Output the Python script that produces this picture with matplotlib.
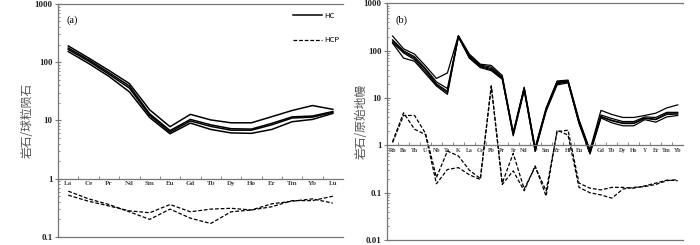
import matplotlib
matplotlib.use("Agg")
import matplotlib.pyplot as plt
from matplotlib.ticker import FixedLocator, LogLocator, NullFormatter
import numpy as np

plt.rcParams['font.family'] = ['Noto Sans CJK SC', 'DejaVu Sans']

# (a) 球粒陨石标准化稀土元素配分
ree = ['La', 'Ce', 'Pr', 'Nd', 'Sm', 'Eu', 'Gd', 'Tb', 'Dy', 'Ho', 'Er', 'Tm', 'Yb', 'Lu']
hc_ree = [
    [190, 118, 72, 43, 15.2, 7.8, 12.7, 10.2, 9.1, 9.1, 11.6, 14.8, 18.0, 15.5],
    [175, 110, 66, 39, 13.0, 6.7, 10.4, 8.4, 7.2, 7.1, 8.9, 11.5, 11.9, 14.2],
    [165, 104, 62, 36, 12.2, 6.3, 9.8, 7.9, 6.8, 6.8, 8.4, 11.0, 11.4, 13.8],
    [152, 95, 57, 31, 11.2, 5.9, 9.0, 7.0, 6.1, 6.0, 7.0, 9.5, 10.4, 13.2],
]
hcp_ree = [
    [0.61, 0.45, 0.36, 0.27, 0.20, 0.30, 0.21, 0.17, 0.27, 0.29, 0.33, 0.42, 0.42, 0.50],
    [0.52, 0.41, 0.34, 0.28, 0.26, 0.36, 0.27, 0.30, 0.31, 0.29, 0.37, 0.41, 0.45, 0.38],
]

# (b) 原始地幔标准化微量元素蛛网图
trace = ['Rb', 'Ba', 'Th', 'U', 'Nb', 'Ta', 'K', 'La', 'Ce', 'Pb', 'Pr', 'Sr', 'Nd', 'P',
         'Sm', 'Zr', 'Hf', 'Eu', 'Ti', 'Gd', 'Tb', 'Dy', 'Ho', 'Y', 'Er', 'Tm', 'Yb']
hc_trace = [
    [205, 110, 85, 48, 26, 34, 210, 85, 52, 49, 30, 1.9, 17, 0.90, 6.2, 23, 24, 3.5, 0.80, 5.5, 4.5, 3.9, 3.9, 4.3, 4.8, 6.2, 7.2],
    [170, 100, 75, 42, 22, 16, 205, 80, 50, 45, 28, 1.8, 16.5, 0.85, 6.0, 22, 23, 3.3, 0.76, 4.4, 3.7, 3.2, 3.2, 4.0, 3.9, 5.0, 5.0],
    [160, 95, 70, 40, 20, 14, 200, 76, 48, 42, 27, 1.75, 16, 0.82, 5.7, 21, 22.5, 3.1, 0.72, 4.1, 3.4, 3.0, 3.0, 3.8, 3.6, 4.8, 4.8],
    [150, 90, 65, 36, 19, 13, 200, 72, 46, 40, 26, 1.7, 15, 0.78, 5.5, 20, 22, 3.0, 0.70, 4.0, 3.3, 2.9, 2.9, 3.7, 3.5, 4.5, 4.6],
    [145, 70, 60, 33, 18, 12, 195, 70, 44, 38, 25, 1.6, 14.5, 0.75, 5.3, 19, 21, 2.9, 0.66, 3.8, 3.0, 2.6, 2.6, 3.5, 3.1, 4.0, 4.3],
]
hcp_trace = [
    [1.2, 4.9, 2.2, 1.7, 0.155, 0.31, 0.34, 0.24, 0.19, 18, 0.15, 0.29, 0.11, 0.37, 0.085,
     2.1, 1.65, 0.13, 0.10, 0.09, 0.077, 0.12, 0.13, 0.135, 0.15, 0.18, 0.19],
    [1.15, 4.3, 4.3, 1.8, 0.21, 0.76, 0.60, 0.30, 0.20, 18, 0.16, 0.68, 0.12, 0.35, 0.11,
     1.95, 2.1, 0.16, 0.125, 0.115, 0.13, 0.13, 0.125, 0.14, 0.16, 0.185, 0.18],
]
yticks_a = [0.1, 1, 10, 100, 1000]
yticks_b = [0.01, 0.1, 1, 10, 100, 1000]

spine_c = '#777777'
serif = ['Liberation Serif', 'DejaVu Serif']


def style_axis(ax, cats, yticks, catsize, ylab, tag, labx):
    n = len(cats)
    x = np.arange(n)
    ymin, ymax = yticks[0], yticks[-1]
    ax.set_yscale('log')
    ax.set_ylim(ymin, ymax)
    ax.set_xlim(-0.5, n - 0.5)
    ax.spines['right'].set_visible(False)
    ax.spines['bottom'].set_position(('data', 1))
    for s in ['left', 'top', 'bottom']:
        ax.spines[s].set_color(spine_c)
        ax.spines[s].set_linewidth(0.9)
    ax.axhline(ymin, color=spine_c, lw=0.9, clip_on=False)

    ax.set_xticks(x, cats, fontsize=catsize, family=serif, fontweight='bold', color='#444444')
    ax.xaxis.set_minor_locator(FixedLocator(np.arange(n - 1) + 0.5))
    ax.tick_params(axis='x', which='major', length=0, pad=2)
    ax.tick_params(axis='x', which='minor', direction='in', length=2, color=spine_c)

    ax.set_yticks(yticks, [f'{v:g}' for v in yticks], fontsize=6.5, family=serif,
                  fontweight='bold', color='#222222')
    ax.yaxis.set_minor_locator(LogLocator(base=10, subs=np.arange(2, 10), numticks=10))
    ax.yaxis.set_minor_formatter(NullFormatter())
    ax.tick_params(axis='y', which='major', direction='inout', length=4, color=spine_c, pad=2)
    ax.tick_params(axis='y', which='minor', direction='in', length=1.5, color=spine_c)
    ax.set_ylabel(ylab, fontsize=8.5, color='#555555')
    ax.yaxis.set_label_coords(labx, 0.5)
    ax.text(0.03, 0.95, tag, transform=ax.transAxes, fontsize=7.5, family=serif,
            ha='left', va='top')
    return x


fig = plt.figure(figsize=(7, 2.45), dpi=100)

ax1 = fig.add_axes([0.083, 0.033, 0.407, 0.951])
x1 = style_axis(ax1, ree, yticks_a, 5, '岩石/球粒陨石', '(a)', -0.087)
for i, row in enumerate(hc_ree):
    ax1.plot(x1, row, color='black', lw=1.1, label='HC' if i == 0 else None)
for i, row in enumerate(hcp_ree):
    ax1.plot(x1, row, color='black', lw=0.9, ls=(0, (3, 1.5)), label='HCP' if i == 0 else None)
ax1.legend(loc='upper right', bbox_to_anchor=(1.0, 0.98), frameon=False, fontsize=5.5,
           handlelength=3.8, handletextpad=0.3, labelspacing=2.2, borderaxespad=0)

ax2 = fig.add_axes([0.553, 0.02, 0.423, 0.966])
x2 = style_axis(ax2, trace, yticks_b, 4.2, '岩石/原始地幔', '(b)', -0.066)
for row in hc_trace:
    ax2.plot(x2, row, color='black', lw=0.9)
for row in hcp_trace:
    ax2.plot(x2, row, color='black', lw=0.9, ls=(0, (3, 1.5)))

fig.savefig('out.png', dpi=100)
